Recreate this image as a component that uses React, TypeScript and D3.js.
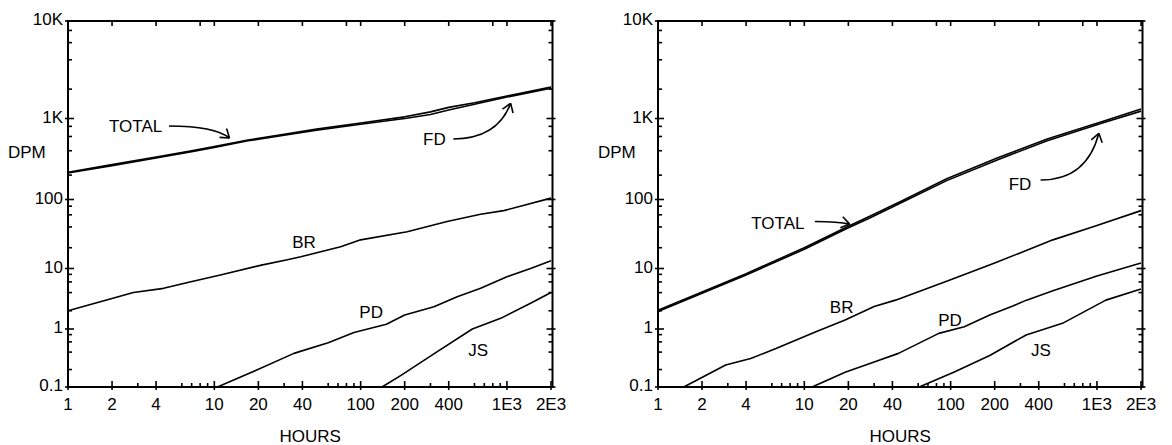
import React, { useEffect, useRef } from 'react';
import * as d3 from 'd3';

// x tick values / labels (hours)
const xTicks = [1, 2, 4, 10, 20, 40, 100, 200, 400, 1000, 2000];
const xTickLabels = ['1', '2', '4', '10', '20', '40', '100', '200', '400', '1E3', '2E3'];
const xMinorBottom = [3, 6, 7, 8, 9, 30, 60, 70, 80, 90, 300, 600, 700, 800, 900];
const xTicksTop = [2, 4, 8, 10, 20, 40, 80, 100, 200, 400, 800, 1000, 2000];

// y tick values / labels (DPM)
const yTicks = [0.1, 1, 10, 100, 1000, 10000];
const yTickLabels = ['0.1', '1', '10', '100', '1K', '10K'];
const yMinor = [0.2, 0.4, 0.6, 0.8, 2, 4, 6, 8, 20, 40, 60, 80, 200, 400, 600, 800, 2000, 4000, 6000, 8000];

// left panel series: [hours, DPM]
const leftTotal = [[1, 217], [2, 270], [4, 335], [7, 400], [10, 450], [17, 543], [30, 640], [50, 740], [100, 880], [200, 1040], [300, 1170], [400, 1300], [600, 1450], [1000, 1700], [2000, 2100]];
const leftFD = [[1, 212], [2, 262], [4, 325], [7, 390], [10, 440], [17, 530], [30, 620], [50, 715], [100, 850], [200, 1000], [300, 1100], [400, 1220], [600, 1400], [1000, 1660], [2000, 2050]];
const leftBR = [[1, 2.0], [2.8, 4.0], [4.5, 4.7], [6.8, 6.0], [11, 7.8], [21, 11.2], [31, 13.3], [39, 14.8], [73, 20.7], [100, 26], [208, 34], [390, 48], [660, 61], [950, 69], [2000, 104]];
const leftPD = [[10.5, 0.1], [19, 0.19], [35, 0.38], [60, 0.58], [90, 0.87], [150, 1.2], [200, 1.7], [317, 2.34], [457, 3.42], [661, 4.7], [1000, 7.3], [1450, 10], [2000, 13]];
const leftJS = [[140, 0.1], [190, 0.16], [330, 0.4], [580, 1.0], [906, 1.5], [1450, 2.66], [2000, 4.0]];

// right panel series
const rightTotal = [[1, 2.05], [2, 4.1], [4, 8.2], [10, 20], [20, 41], [28, 57], [47, 97], [94, 180], [208, 325], [457, 560], [1117, 930], [2000, 1250]];
const rightFD = [[1, 1.95], [2, 3.9], [4, 7.8], [10, 19], [20, 39], [28, 54], [47, 92], [94, 171], [208, 308], [457, 530], [1117, 890], [2000, 1190]];
const rightBR = [[1.5, 0.1], [2.9, 0.24], [4.3, 0.31], [6.4, 0.46], [12, 0.9], [19, 1.41], [30, 2.35], [42, 3.0], [100, 6.5], [200, 12], [500, 26], [1000, 42], [2000, 69]];
const rightPD = [[11.3, 0.1], [19, 0.18], [30, 0.27], [44, 0.38], [83, 0.84], [124, 1.09], [185, 1.7], [261, 2.35], [330, 3.0], [500, 4.3], [1000, 7.5], [2000, 12]];
const rightJS = [[61, 0.1], [105, 0.18], [185, 0.35], [328, 0.79], [581, 1.24], [1150, 3.0], [2000, 4.6]];

// curve labels [text, hours, DPM]
const leftLabels = [['BR', 41, 24], ['PD', 118, 1.9], ['JS', 637, 0.43]];
const rightLabels = [['BR', 18, 2.3], ['PD', 99, 1.41], ['JS', 414, 0.43]];

// arrow notes: label position, arrow start, bend, tip (hours, DPM)
const leftArrows = [
  { text: 'TOTAL', at: [2.9, 808], from: [4.9, 808], bend: [10, 808], tip: [12.7, 574] },
  { text: 'FD', at: [319, 559], from: [430, 559], bend: [860, 559], tip: [1060, 1430] },
];
const rightArrows = [
  { text: 'TOTAL', at: [6.6, 46], from: [11.8, 48], bend: [17, 48], tip: [20.4, 44] },
  { text: 'FD', at: [298, 155], from: [412, 174], bend: [850, 174], tip: [1030, 656] },
];

const W = 1172;
const H = 445;
const FONT = 'Liberation Sans, Arial, sans-serif';
const FS = 17;

const App = () => {
  const svgRef = useRef(null);

  useEffect(() => {
    document.body.style.margin = '0';
    const svg = d3.select(svgRef.current);
    svg.selectAll('*').remove();

    // log scale on y, decade spacing follows the original drawing
    const yLog = d3.scaleLinear().domain([-1, 0, 1, 2, 3, 4]).range([387, 329, 268.5, 199.5, 118.5, 21]);
    const y = (v) => yLog(Math.log10(v));

    const panels = [
      { off: 0, series: [leftTotal, leftFD, leftBR, leftPD, leftJS], labels: leftLabels, arrows: leftArrows },
      { off: 590, series: [rightTotal, rightFD, rightBR, rightPD, rightJS], labels: rightLabels, arrows: rightArrows },
    ];

    panels.forEach((p) => {
      const x = d3.scaleLog().domain([1, 2000]).range([68 + p.off, 551 + p.off]);
      const x0 = x(1), x1 = x(2000) + 1.5;
      const yTop = y(10000), yBot = y(0.1);
      const g = svg.append('g');

      const line = d3.line().x((d) => x(d[0])).y((d) => y(d[1]));
      p.series.forEach((s) => {
        g.append('path').attr('d', line(s)).attr('fill', 'none')
          .attr('stroke', '#000').attr('stroke-width', 1.6).attr('stroke-linejoin', 'round');
      });

      // frame
      g.append('rect').attr('x', x0).attr('y', yTop).attr('width', x1 - x0).attr('height', yBot - yTop)
        .attr('fill', 'none').attr('stroke', '#000').attr('stroke-width', 2);

      const tick = (x1_, y1_, x2_, y2_) => g.append('line').attr('x1', x1_).attr('y1', y1_).attr('x2', x2_).attr('y2', y2_)
        .attr('stroke', '#000').attr('stroke-width', 1.6);

      xTicks.forEach((t) => tick(x(t), yBot + 3, x(t), yBot - 6));
      xMinorBottom.forEach((t) => tick(x(t), yBot, x(t), yBot - 4));
      xTicksTop.forEach((t) => tick(x(t), yTop, x(t), yTop + 5));
      yTicks.forEach((t) => { tick(x0 - 3, y(t), x0 + 6, y(t)); tick(x1 + 3, y(t), x1 - 6, y(t)); });
      yMinor.forEach((t) => { tick(x0, y(t), x0 + 4, y(t)); tick(x1, y(t), x1 - 4, y(t)); });

      const text = (s, tx, ty, anchor) => g.append('text').text(s).attr('x', tx).attr('y', ty)
        .attr('text-anchor', anchor).attr('font-family', FONT).attr('font-size', FS).attr('fill', '#000');

      xTicks.forEach((t, i) => text(xTickLabels[i], x(t), yBot + 23, 'middle'));
      yTicks.forEach((t, i) => text(yTickLabels[i], x0 - 5, y(t) + 4, 'end'));
      text('DPM', 8 + p.off, 158, 'start');
      text('HOURS', (x0 + x1) / 2, 442, 'middle');

      p.labels.forEach((l) => text(l[0], x(l[1]), y(l[2]) + 6, 'middle'));

      p.arrows.forEach((a) => {
        text(a.text, x(a.at[0]), y(a.at[1]) + 6, 'middle');
        const sx = x(a.from[0]), sy = y(a.from[1]);
        const cx = x(a.bend[0]), cy = y(a.bend[1]);
        const tx = x(a.tip[0]), ty = y(a.tip[1]);
        const path = d3.path();
        path.moveTo(sx, sy);
        path.quadraticCurveTo(cx, cy, tx, ty);
        g.append('path').attr('d', path.toString()).attr('fill', 'none').attr('stroke', '#000').attr('stroke-width', 1.6);
        const ang = Math.atan2(ty - cy, tx - cx) + Math.PI;
        [-0.6, 0.6].forEach((da) => tick(tx, ty, tx + 10 * Math.cos(ang + da), ty + 10 * Math.sin(ang + da)));
      });
    });
  }, []);

  return <svg ref={svgRef} width={W} height={H} style={{ display: 'block', background: '#fff' }} />;
};

export default App;
